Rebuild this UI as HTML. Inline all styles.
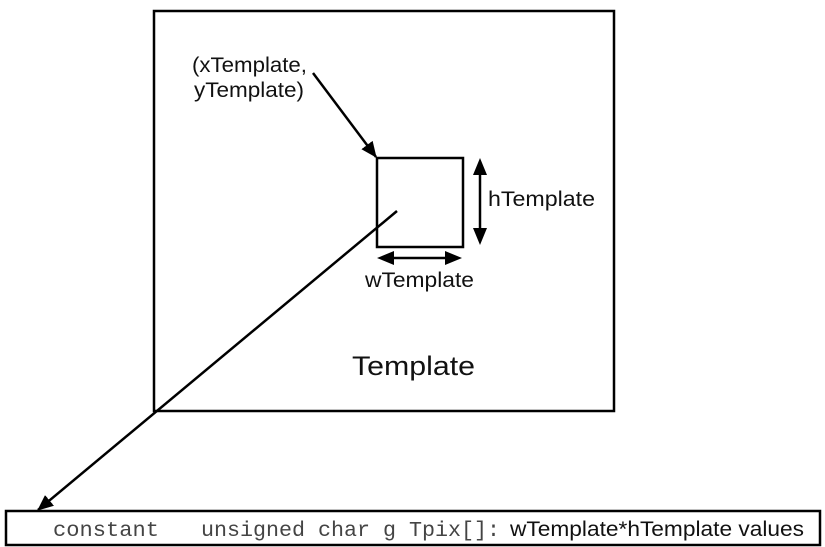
<!DOCTYPE html>
<html><head><meta charset="utf-8"><style>
html,body{margin:0;padding:0;background:#fff;}
svg{display:block;}
text{font-family:"Liberation Sans",sans-serif;fill:#111;}
</style></head><body>
<svg width="825" height="547" viewBox="0 0 825 547" xmlns="http://www.w3.org/2000/svg">
<defs>
<marker id="b" markerWidth="16" markerHeight="14" refX="15" refY="7" orient="auto" markerUnits="userSpaceOnUse">
<path d="M0,0 L16,7 L0,14 z" fill="#000"/></marker>
</defs>
<rect x="154" y="11" width="460" height="400" fill="none" stroke="#000" stroke-width="2.5"/>
<rect x="377" y="158" width="86" height="89" fill="none" stroke="#000" stroke-width="2.5"/>
<text x="192" y="72" font-size="21" textLength="115" lengthAdjust="spacingAndGlyphs">(xTemplate,</text>
<text x="194" y="97" font-size="21" textLength="110" lengthAdjust="spacingAndGlyphs">yTemplate)</text>
<line x1="313" y1="73" x2="376" y2="157" stroke="#000" stroke-width="2.5" marker-end="url(#b)"/>
<line x1="480" y1="170" x2="480" y2="234" stroke="#000" stroke-width="2.5"/>
<path d="M480,158 L473,175 L487,175 z M480,245 L473,228 L487,228 z" fill="#000"/>
<text x="488" y="206" font-size="21" textLength="107" lengthAdjust="spacingAndGlyphs">hTemplate</text>
<line x1="390" y1="258" x2="450" y2="258" stroke="#000" stroke-width="2.5"/>
<path d="M377,258 L394,251 L394,265 z M462,258 L445,251 L445,265 z" fill="#000"/>
<text x="365" y="287" font-size="21" textLength="109" lengthAdjust="spacingAndGlyphs">wTemplate</text>
<text x="352" y="375" font-size="27" textLength="123" lengthAdjust="spacingAndGlyphs">Template</text>
<line x1="397" y1="211" x2="38" y2="510" stroke="#000" stroke-width="2.5" marker-end="url(#b)"/>
<rect x="6" y="511" width="814" height="34" fill="none" stroke="#000" stroke-width="2.5"/>
<text x="53" y="536" font-size="21" style="font-family:'Liberation Mono',monospace;fill:#444" textLength="106" lengthAdjust="spacingAndGlyphs">constant</text>
<text x="201" y="536" font-size="21" style="font-family:'Liberation Mono',monospace;fill:#444" textLength="299" lengthAdjust="spacingAndGlyphs">unsigned char g Tpix[]:</text>
<text x="510" y="536" font-size="21" textLength="294" lengthAdjust="spacingAndGlyphs">wTemplate*hTemplate values</text>
</svg>
</body></html>
